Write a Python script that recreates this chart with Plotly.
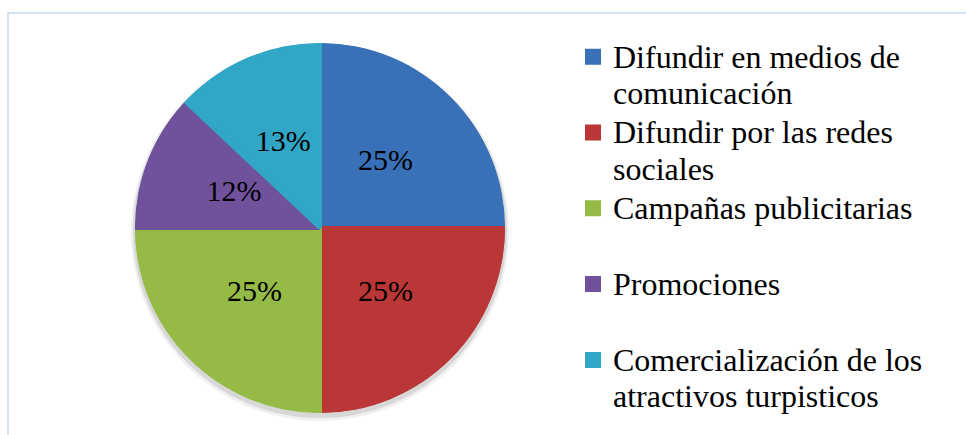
import textwrap
import plotly.graph_objects as go

# ---- data ----
categories = [
    "Difundir en medios de comunicación",
    "Difundir por las redes sociales",
    "Campañas publicitarias",
    "Promociones",
    "Comercialización de los atractivos turpisticos",
]
values = [25, 25, 25, 12, 13]
colors = ["#3871b7", "#bb3737", "#95bb46", "#6f529b", "#32a6c6"]

# ---- geometry (pixels) ----
W, H = 966, 435
cx, cy, R = 320, 228, 185
dom_x = [(cx - R) / W, (cx + R) / W]
dom_y = [(H - cy - R) / H, (H - cy + R) / H]

total = sum(values)
spans = [v / total * 360 for v in values]
mids = []
acc = 0.0
for s in spans:
    mids.append(acc + s / 2)
    acc += s
pct = [f"{v / total:.0%}" for v in values]

FONT = "Liberation Serif, Times New Roman, DejaVu Serif, serif"

fig = go.Figure()
for name, s, m, c in zip(categories, spans, mids, colors):
    lines = textwrap.wrap(name, 23)
    if len(lines) < 2:
        lines.append("\u00a0")
    label = "<br>".join(f'<span style="font-size:32px">{l}</span>' for l in lines)
    fig.add_trace(go.Barpolar(
        r=[1], theta=[m], width=[s],
        marker=dict(color=c, line=dict(color=c, width=4)),
        name=label, hoverinfo="skip",
    ))

fig.add_trace(go.Scatterpolar(
    r=[0.5] * len(values), theta=mids, mode="text", text=pct,
    textposition="middle center",
    textfont=dict(size=30, color="black", family=FONT),
    showlegend=False, hoverinfo="skip",
))

shapes = []
# soft shadow under the pie (mostly visible at the bottom)
for extra, dy, op in [(2, 4, 0.06), (0, 3, 0.10)]:
    rr = R + 2 + extra
    ccy = cy + dy
    shapes.append(dict(
        type="circle", xref="paper", yref="paper", layer="below",
        x0=(cx - rr) / W, x1=(cx + rr) / W,
        y0=(H - ccy - rr) / H, y1=(H - ccy + rr) / H,
        fillcolor=f"rgba(0,0,0,{op})", line=dict(width=0),
    ))
# chart area border
shapes.append(dict(
    type="rect", xref="paper", yref="paper", layer="below",
    x0=8 / W, x1=1.2, y0=-0.2, y1=1 - 13 / H,
    line=dict(color="#d5e2f2", width=2), fillcolor="rgba(0,0,0,0)",
))

fig.update_layout(
    width=W, height=H,
    margin=dict(l=0, r=0, t=0, b=0),
    paper_bgcolor="white",
    plot_bgcolor="white",
    polar=dict(
        domain=dict(x=dom_x, y=dom_y),
        bgcolor="rgba(0,0,0,0)",
        bargap=0, hole=0,
        radialaxis=dict(visible=False, range=[0, 1]),
        angularaxis=dict(visible=False, rotation=90, direction="clockwise"),
    ),
    showlegend=True,
    legend=dict(
        x=573 / W, xanchor="left",
        y=1 - 32 / H, yanchor="top",
        font=dict(size=28, family=FONT, color="black"),
        valign="top",
        bgcolor="rgba(0,0,0,0)",
        traceorder="normal",
    ),
    shapes=shapes,
    font=dict(family=FONT),
)

fig.write_html(
    "out.html",
    config={"displayModeBar": False},
    post_script="document.body.style.margin='0';document.body.style.padding='0';",
)
